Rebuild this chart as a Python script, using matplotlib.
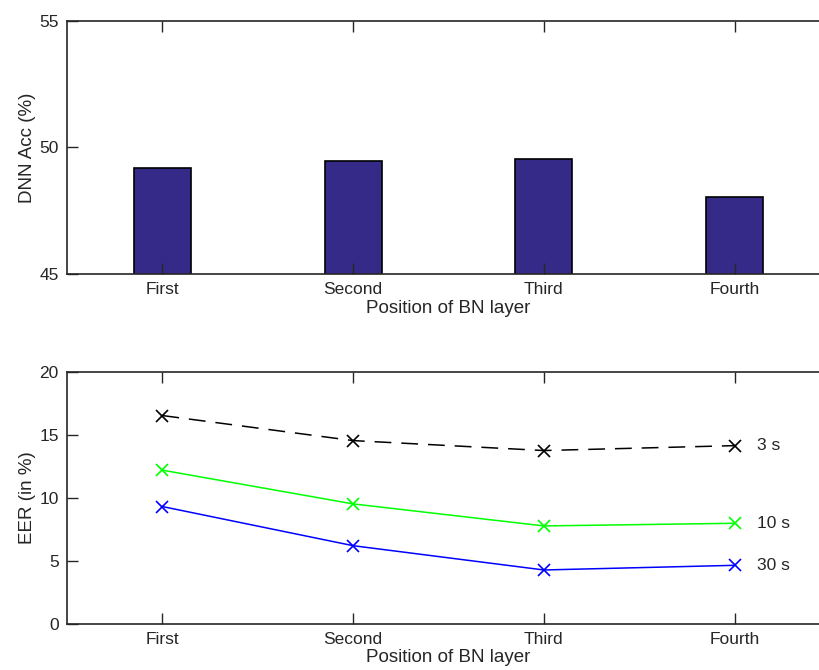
import matplotlib
matplotlib.use("Agg")
import matplotlib.pyplot as plt

plt.rcParams['font.family'] = ['Liberation Sans', 'DejaVu Sans']

# Donnees
positions = ['First', 'Second', 'Third', 'Fourth']
dnn_acc = [49.17, 49.46, 49.55, 48.05]

eer_3s = [16.56, 14.57, 13.78, 14.17]
eer_10s = [12.22, 9.54, 7.79, 8.0]
eer_30s = [9.33, 6.22, 4.29, 4.66]
durations = ['3 s', '10 s', '30 s']

text_color = '#262626'
x = list(range(1, len(positions) + 1))

fig = plt.figure(figsize=(8.19, 6.70), dpi=100)

# Style type matlab pour les axes
def style_axes(ax):
    for s in ax.spines.values():
        s.set_color(text_color)
        s.set_linewidth(1.2)
    ax.tick_params(direction='in', length=8, width=1, colors=text_color,
                   labelsize=12.5, top=True, right=True, pad=6)
    ax.set_xticks(x)
    ax.set_xticklabels(positions)
    ax.set_xlim(0.5, 4.5)

# Histogramme du haut
ax1 = fig.add_axes([0.0818, 0.591, 0.9316, 0.378])
ax1.bar(x, dnn_acc, width=0.3, color='#352A87', edgecolor='black', linewidth=1.2)
ax1.set_ylim(45, 55)
ax1.set_yticks([45, 50, 55])
style_axes(ax1)
ax1.set_ylabel('DNN Acc (%)', fontsize=13.5, color=text_color, labelpad=2)
ax1.set_xlabel('Position of BN layer', fontsize=13.5, color=text_color, labelpad=2)

# Courbes EER du bas
ax2 = fig.add_axes([0.0818, 0.0687, 0.9316, 0.3757])
series = [eer_3s, eer_10s, eer_30s]
colors = ['black', '#00ff00', '#0000ff']
styles = [(0, (11, 6.5)), '-', '-']
for data, c, ls, lab in zip(series, colors, styles, durations):
    ax2.plot(x, data, color=c, linestyle=ls, linewidth=1.1, marker='x',
             markersize=8, markeredgewidth=1.2)
    ax2.text(x[-1] + 0.12, data[-1], lab, fontsize=12.5, color=text_color,
             va='center', ha='left')
ax2.set_ylim(0, 20)
ax2.set_yticks([0, 5, 10, 15, 20])
style_axes(ax2)
ax2.set_ylabel('EER (in %)', fontsize=13.5, color=text_color, labelpad=2)
ax2.set_xlabel('Position of BN layer', fontsize=13.5, color=text_color, labelpad=1)

fig.savefig('out.png', dpi=100)
